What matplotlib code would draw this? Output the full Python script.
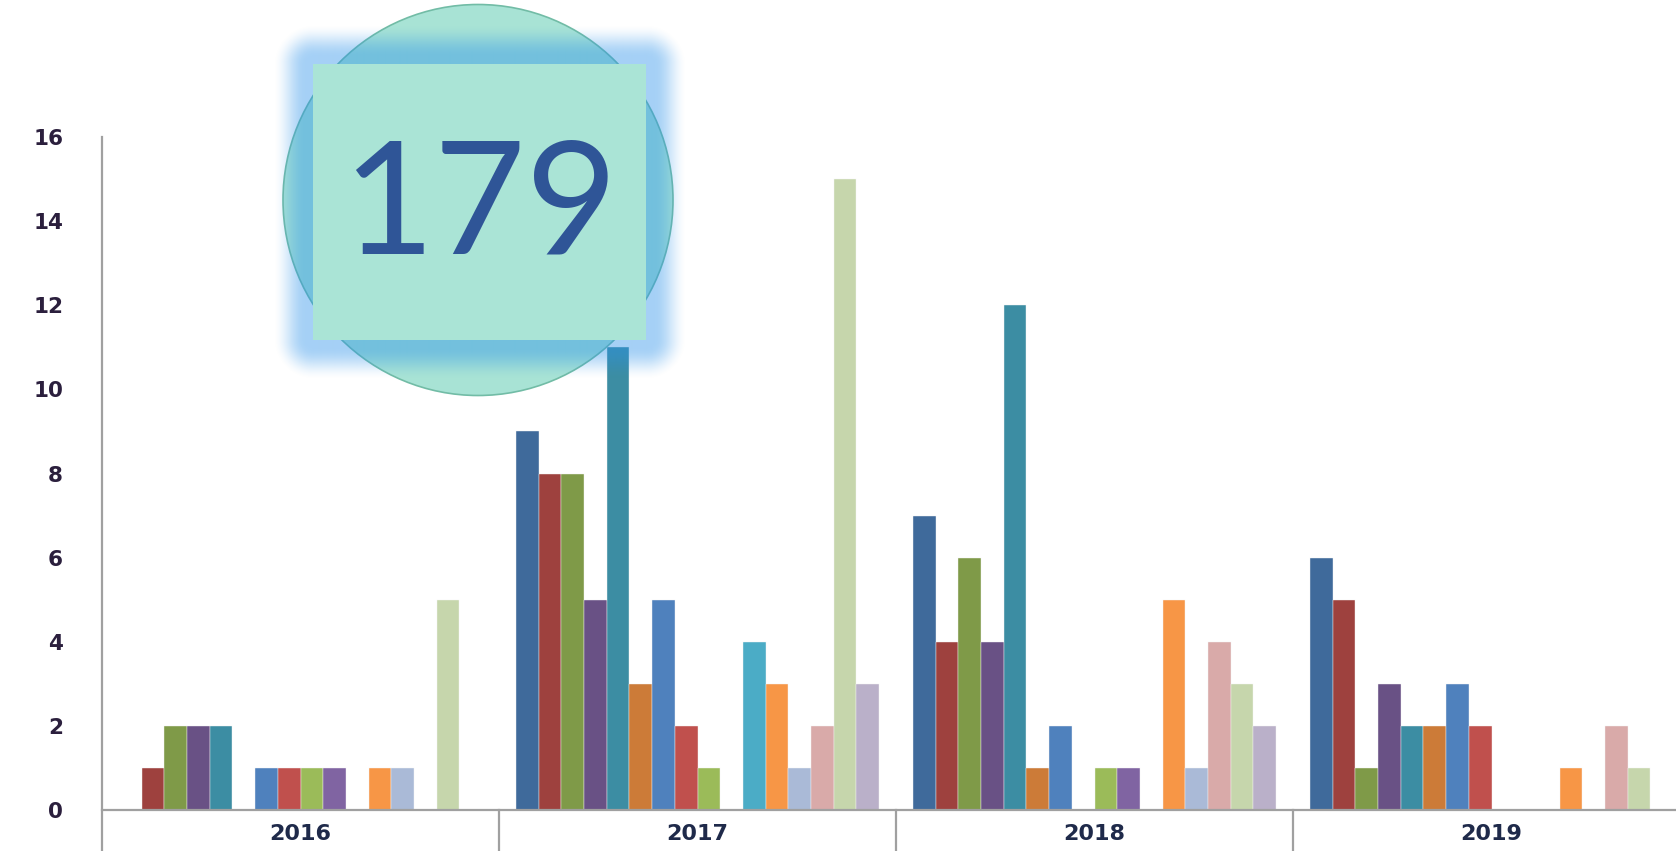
import numpy as np
import matplotlib
matplotlib.use("Agg")
import matplotlib.pyplot as plt
from matplotlib.patches import Ellipse, Rectangle

# counts per year, 16 series each (Excel default palette order)
years = ['2016', '2017', '2018', '2019']
counts_2016 = [0, 1, 2, 2, 2, 0, 1, 1, 1, 1, 0, 1, 1, 0, 5, 0]
counts_2017 = [9, 8, 8, 5, 11, 3, 5, 2, 1, 0, 4, 3, 1, 2, 15, 3]
counts_2018 = [7, 4, 6, 4, 12, 1, 2, 0, 1, 1, 0, 5, 1, 4, 3, 2]
counts_2019 = [6, 5, 1, 3, 2, 2, 3, 2, 0, 0, 0, 1, 0, 2, 1, 0]
total_label = '179'

colors = ['#3F6A9B', '#9E413E', '#7F9A48', '#695185', '#3C8DA3', '#CC7B38',
          '#4F81BD', '#C0504D', '#9BBB59', '#8064A2', '#4BACC6', '#F79646',
          '#AABAD7', '#D9AAA9', '#C6D6AC', '#BAB0C9']

W, H = 1676, 851
plt.rcParams['font.family'] = 'DejaVu Sans'

fig = plt.figure(figsize=(W / 100, H / 100), dpi=100)
fig.patch.set_facecolor('white')

# plot area: y=0 at 810px, y=16 at 137px, left axis at 102px
group_px = 397.0
ax = fig.add_axes([102 / W, (H - 810) / H, (W - 102) / W, 673 / H])
ax.set_xlim(-0.5, -0.5 + (W - 102) / group_px)
ax.set_ylim(0, 16)

counts = np.array([counts_2016, counts_2017, counts_2018, counts_2019])
n_series = counts.shape[1]
w = 1 / 17.5  # 16 bars + 150% gap
x = np.arange(len(years))
for i in range(n_series):
    ax.bar(x + (i - 7.5) * w, counts[:, i], w, color=colors[i],
           edgecolor='#F4F4F4', linewidth=0.3, zorder=2)

for s in ax.spines.values():
    s.set_visible(False)

axis_gray = '#A0A0A0'
ax.plot([-0.5, 4], [0, 0], color=axis_gray, lw=1.6, clip_on=False, zorder=3)
ax.plot([0, 0], [-0.061, 1], transform=ax.transAxes, color=axis_gray,
        lw=1.6, clip_on=False, zorder=3)
for xd in [0.5, 1.5, 2.5]:
    ax.plot([xd, xd], [-0.061, 0], transform=ax.get_xaxis_transform(),
            color=axis_gray, lw=1.6, clip_on=False, zorder=3)

ax.set_yticks(range(0, 17, 2))
ax.tick_params(axis='y', length=0, pad=28, labelsize=15.5, labelcolor='#2B1F3D')
ax.set_xticks(x, years)
ax.tick_params(axis='x', length=0, pad=10, labelsize=16, labelcolor='#1F2A4A')
for lbl in ax.get_yticklabels() + ax.get_xticklabels():
    lbl.set_fontweight('bold')

# overlay badge in pixel coordinates
ov = fig.add_axes([0, 0, 1, 1], zorder=10)
ov.set_xlim(0, W)
ov.set_ylim(H, 0)
ov.axis('off')
ov.patch.set_alpha(0)

ov.add_patch(Ellipse((478, 200), 390, 391, facecolor='#A8E3D5',
                     edgecolor='#72BCA6', lw=1.2, zorder=1))

# soft blue glow around the square
sq_x0, sq_x1, sq_y0, sq_y1 = 313, 646, 64, 340
gx0, gx1, gy0, gy1 = 250, 710, 0, 400
gx, gy = np.meshgrid(np.arange(gx0, gx1) + 0.5, np.arange(gy0, gy1) + 0.5)
dx = np.maximum.reduce([sq_x0 - gx, np.zeros_like(gx), gx - sq_x1])
dy = np.maximum.reduce([sq_y0 - gy, np.zeros_like(gy), gy - sq_y1])
d = np.hypot(dx, dy)
t = np.clip((d - 8) / 32, 0, 1)
alpha = 0.42 * (1 - t * t * (3 - 2 * t))
glow = np.zeros(gx.shape + (4,))
glow[..., 0] = 42 / 255
glow[..., 1] = 145 / 255
glow[..., 2] = 234 / 255
glow[..., 3] = alpha
ov.imshow(glow, extent=(gx0, gx1, gy1, gy0), origin='upper',
          interpolation='bilinear', zorder=2, aspect='auto')

ov.add_patch(Rectangle((sq_x0, sq_y0), sq_x1 - sq_x0, sq_y1 - sq_y0,
                       facecolor='#AAE4D6', edgecolor='none', zorder=3))
ov.text(480, 253, total_label, fontsize=114, family=['Lato', 'DejaVu Sans'],
        color='#2F5597', ha='center', va='baseline', zorder=4)
ov.set_xlim(0, W)
ov.set_ylim(H, 0)

fig.savefig('out.png', dpi=100)
